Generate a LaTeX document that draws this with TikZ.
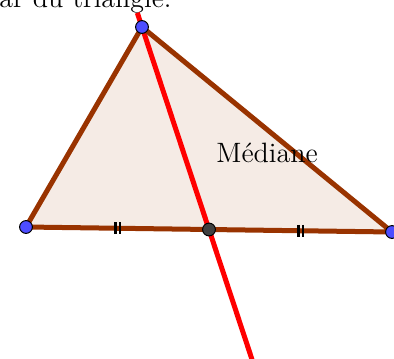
\documentclass[tikz,border=0pt]{standalone}
\usepackage{fontspec}
\usetikzlibrary{calc}
\definecolor{brun}{RGB}{153,51,0}
\definecolor{bleupt}{RGB}{77,77,255}
\definecolor{grispt}{RGB}{64,64,64}
\tikzset{
	cote/.style={brun, line width=2.5pt, line join=round},
	mediane/.style={red, line width=2.5pt},
	point/.style={draw=black, line width=0.5pt},
	texte/.style={anchor=base west, inner sep=0pt, font=\fontsize{14}{17}\selectfont}
}
\begin{document}
\begin{tikzpicture}[x=0.5pt, y=-0.5pt]
	\useasboundingbox (0,0) rectangle (394,358);
	\node[texte] (titre) at (-1,8) {ar du triangle.};
	
	\coordinate (A) at (142,27);
	\coordinate (B) at (26,227);
	\coordinate (C) at (392,232);
	\coordinate (M) at ($(B)!.5!(C)$);
	\coordinate (T1) at ($(B)!.5!(M)$);
	\coordinate (T2) at ($(M)!.5!(C)$);
	\coordinate (haut) at ($(A)!-0.07!(M)$);
	\coordinate (bas) at ($(A)!1.7!(M)$);
	
	\fill[brun!10] (A) -- (B) -- (C) -- cycle;
	\draw[mediane] (haut) -- (bas);
	\draw[cote] (A) -- (B) -- (C) -- cycle;
	
	\foreach \t in {T1,T2}
	\foreach \dx in {-2.2,2.2}
	\draw[shift={(\t)}, line width=1.2pt] (\dx,-6) -- (\dx,6);
	
	\node[texte] (nom) at (216,162) {Médiane};
	
	\foreach \p in {A,B,C}
	\filldraw[point, fill=bleupt] (\p) circle (3.2pt);
	\filldraw[point, fill=grispt] (M) circle (3.2pt);
\end{tikzpicture}
\end{document}
